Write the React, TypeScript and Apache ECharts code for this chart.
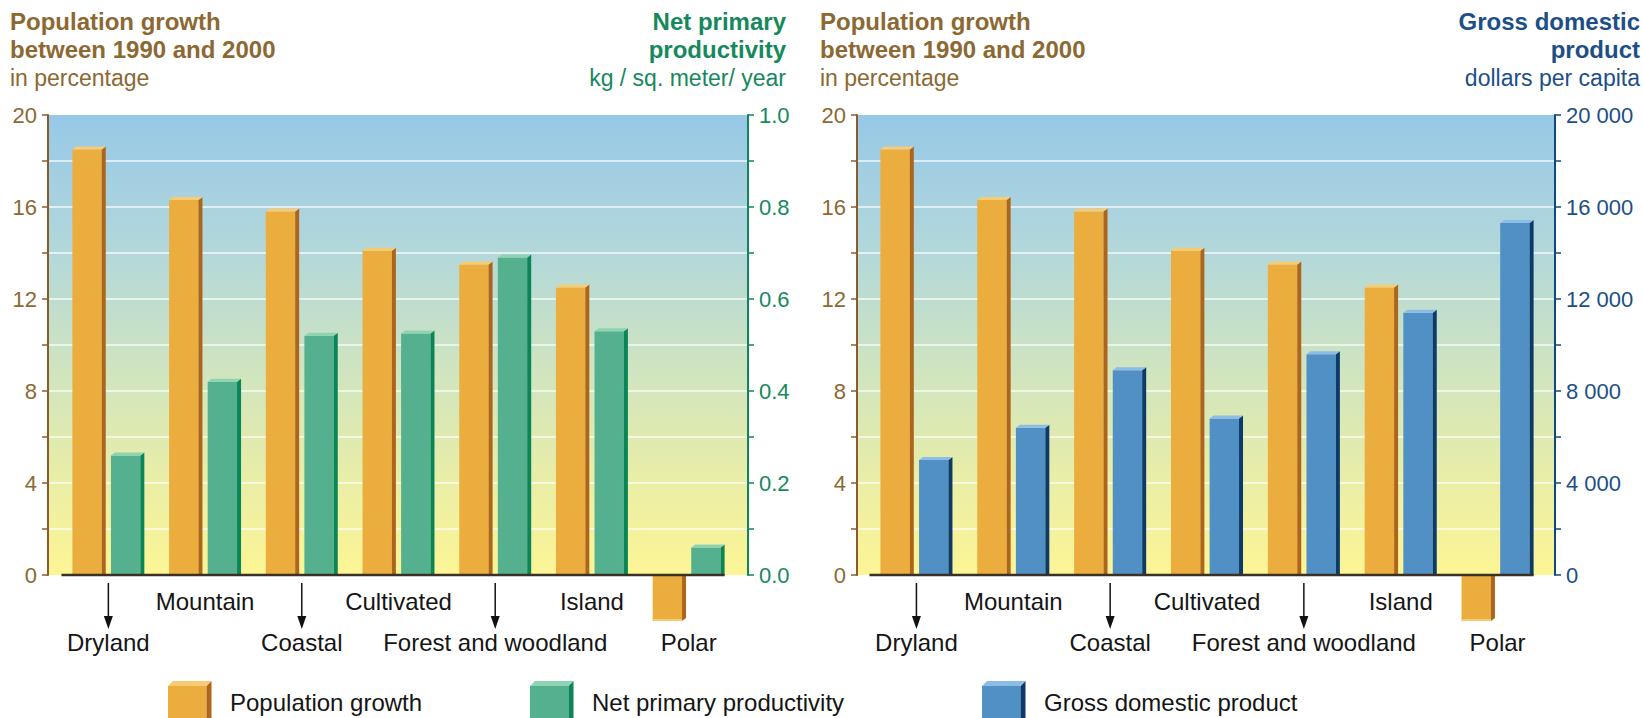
import React, { useEffect, useRef } from 'react';
import * as echarts from 'echarts';

// ---------- data ----------
const categories = ['Dryland', 'Mountain', 'Coastal', 'Cultivated', 'Forest and woodland', 'Island', 'Polar'];
const upperRowCategories = ['Mountain', 'Cultivated', 'Island'];
const arrowCategories = ['Dryland', 'Coastal', 'Forest and woodland'];
const populationGrowth = [18.5, 16.3, 15.8, 14.1, 13.5, 12.5, -2.0];
const netPrimaryProductivity = [0.26, 0.42, 0.52, 0.525, 0.69, 0.53, 0.06];
const gdpPerCapita = [5000, 6400, 8900, 6800, 9600, 11400, 15300];
const popAxisRange = [0, 20, 4];
const nppAxisRange = [0, 1, 0.2];
const gdpAxisRange = [0, 20000, 4000];

// ---------- style ----------
const FONT = '"Liberation Sans", Arial, Helvetica, sans-serif';
const BROWN_AXIS = '#8A5C2C';
const BROWN_TEXT = '#8C6833';
const GREEN_AXIS = '#11865A';
const GREEN_TEXT = '#16895C';
const BLUE_AXIS = '#0E4A7E';
const BLUE_TEXT = '#1D4F86';
const ORANGE = { front: '#EBAE3E', side: '#AD651C', top: '#F6CB74' };
const GREEN = { front: '#54B08E', side: '#0A8558', top: '#8ED3B2' };
const BLUE = { front: '#5190C5', side: '#0C3A69', top: '#8DBDE4' };

const bgGradient = {
  type: 'linear', x: 0, y: 0, x2: 0, y2: 1,
  colorStops: [
    { offset: 0, color: '#97C8E7' },
    { offset: 0.3, color: '#B3D8DA' },
    { offset: 0.55, color: '#CFE4C0' },
    { offset: 0.8, color: '#EAEEA6' },
    { offset: 1, color: '#FDF595' },
  ],
};

const bar3D = (col: any, leftSide: boolean) => (params: any, api: any) => {
  const i = api.value(0);
  const v = api.value(1);
  const pTop = api.coord([i, v]);
  const pBase = api.coord([i, 0]);
  const band = api.size([1, 0])[0];
  const w = band * 0.345;
  const x0 = pBase[0] + (leftSide ? -band * 0.372 : band * 0.027);
  const d = 4;
  const s = 3;
  const x1 = x0 + w - d;
  const yT = pTop[1];
  const yB = pBase[1];
  if (v >= 0) {
    return {
      type: 'group',
      children: [
        { type: 'rect', shape: { x: x0, y: yT, width: x1 - x0, height: yB - yT }, style: { fill: col.front } },
        { type: 'polygon', shape: { points: [[x1, yT], [x1 + d, yT - s], [x1 + d, yB], [x1, yB]] }, style: { fill: col.side } },
        { type: 'polygon', shape: { points: [[x0, yT], [x0 + d, yT - s], [x1 + d, yT - s], [x1, yT]] }, style: { fill: col.top } },
      ],
    };
  }
  return {
    type: 'group',
    children: [
      { type: 'rect', shape: { x: x0, y: yB, width: x1 - x0, height: yT - yB }, style: { fill: col.front } },
      { type: 'polygon', shape: { points: [[x1, yB], [x1 + d, yB], [x1 + d, yT - s], [x1, yT]] }, style: { fill: col.side } },
      { type: 'rect', shape: { x: x0, y: yT - 2, width: x1 - x0, height: 2 }, style: { fill: col.top } },
    ],
  };
};

const arrowItem = (params: any, api: any) => {
  const p = api.coord([api.value(0), 0]);
  return {
    type: 'group',
    children: [
      { type: 'line', shape: { x1: p[0], y1: p[1] + 8, x2: p[0], y2: p[1] + 45 }, style: { stroke: '#111', lineWidth: 1.5 } },
      { type: 'polygon', shape: { points: [[p[0] - 4.5, p[1] + 41], [p[0] + 4.5, p[1] + 41], [p[0], p[1] + 54]] }, style: { fill: '#111' } },
    ],
  };
};

// dark base line running from just before the first bar to the right edge of the last bar
const baseLineItem = (params: any, api: any) => {
  const band = api.size([1, 0])[0];
  const a = api.coord([0, 0]);
  const b = api.coord([categories.length - 1, 0]);
  return {
    type: 'line',
    shape: { x1: a[0] - band * 0.485, y1: a[1], x2: b[0] + band * 0.372, y2: b[1] },
    style: { stroke: '#3B3026', lineWidth: 2.5 },
  };
};

const catLabel = {
  interval: 0,
  hideOverlap: false,
  margin: 12,
  formatter: (value: string) =>
    upperRowCategories.includes(value) ? `{up|${value}}` : `{gap| }\n{low|${value}}`,
  rich: {
    up: { fontSize: 24, lineHeight: 28, color: '#151515', fontFamily: FONT },
    gap: { fontSize: 8, lineHeight: 41 },
    low: { fontSize: 24, lineHeight: 28, color: '#151515', fontFamily: FONT },
  },
};

const visibleCatAxis = (gridIndex: number) => ({
  gridIndex,
  type: 'category',
  data: categories,
  axisLine: { show: false },
  axisTick: { show: false },
  axisLabel: catLabel,
  splitLine: { show: false },
});

const whiteLine = { color: '#FFFFFF', width: 1.6, opacity: 0.85 };

const valueAxis = (
  gridIndex: number, position: string, range: number[], color: string, textColor: string,
  formatter: (v: number) => string, grid: boolean
) => ({
  gridIndex,
  type: 'value',
  position,
  min: range[0],
  max: range[1],
  interval: range[2],
  axisLine: { show: true, lineStyle: { color, width: 2 } },
  axisTick: { show: true, length: 6, lineStyle: { color, width: 1.5 } },
  minorTick: { show: true, splitNumber: 2, length: 6, lineStyle: { color, width: 1.5 } },
  axisLabel: { color: textColor, fontSize: 22, fontFamily: FONT, margin: 11, formatter },
  splitLine: { show: grid, showMinLine: false, showMaxLine: false, lineStyle: whiteLine },
  minorSplitLine: { show: grid, lineStyle: whiteLine },
});

const hiddenAxis = (gridIndex: number, range: number[]) => ({
  gridIndex, type: 'value', show: false, min: range[0], max: range[1], interval: range[2],
  splitLine: { show: false },
});

const thousands = (v: number) => String(v).replace(/\B(?=(\d{3})+(?!\d))/g, ' ');

const titleText = (x: number, y: number, text: string, color: string, bold: boolean, align: string, size: number) => ({
  type: 'text', x, y,
  style: { text, fill: color, fontSize: size, fontWeight: bold ? 'bold' : 'normal', fontFamily: FONT, align, verticalAlign: 'middle' },
});

const legendItems = [
  { label: 'Population growth', x: 168, col: ORANGE },
  { label: 'Net primary productivity', x: 530, col: GREEN },
  { label: 'Gross domestic product', x: 982, col: BLUE },
];

const legendGraphic = legendItems.map((it) => {
  const x = it.x;
  const w = 38.5;
  const t = 681;
  return {
    type: 'group',
    children: [
      { type: 'rect', shape: { x, y: t + 5, width: w, height: 45 }, style: { fill: it.col.front } },
      { type: 'polygon', shape: { points: [[x + w, t + 5], [x + w + 5, t], [x + w + 5, t + 50], [x + w, t + 50]] }, style: { fill: it.col.side } },
      { type: 'polygon', shape: { points: [[x, t + 5], [x + 5, t], [x + w + 5, t], [x + w, t + 5]] }, style: { fill: it.col.top } },
      { type: 'text', x: x + 62, y: 702, style: { text: it.label, fill: '#151515', fontSize: 24, fontFamily: FONT, align: 'left', verticalAlign: 'middle' } },
    ],
  };
});

export default function App() {
  const ref = useRef<HTMLDivElement>(null);
  useEffect(() => {
    if (!ref.current) return;
    const chart = echarts.init(ref.current, null, { renderer: 'svg' });
    const option: any = {
      animation: false,
      backgroundColor: '#FFFFFF',
      grid: [
        { left: 48, top: 115, width: 700, height: 460, show: true, backgroundColor: bgGradient, borderWidth: 0, outerBoundsMode: 'none' },
        { left: 60, top: 115, width: 677, height: 460, outerBoundsMode: 'none' },
        { left: 857, top: 115, width: 698, height: 460, show: true, backgroundColor: bgGradient, borderWidth: 0, outerBoundsMode: 'none' },
        { left: 868, top: 115, width: 678, height: 460, outerBoundsMode: 'none' },
      ],
      xAxis: [
        { gridIndex: 0, type: 'category', data: categories, show: false },
        visibleCatAxis(1),
        { gridIndex: 2, type: 'category', data: categories, show: false },
        visibleCatAxis(3),
      ],
      yAxis: [
        valueAxis(0, 'left', popAxisRange, BROWN_AXIS, BROWN_TEXT, (v) => String(v), true),
        valueAxis(0, 'right', nppAxisRange, GREEN_AXIS, GREEN_TEXT, (v) => v.toFixed(1), false),
        hiddenAxis(1, popAxisRange),
        hiddenAxis(1, nppAxisRange),
        valueAxis(2, 'left', popAxisRange, BROWN_AXIS, BROWN_TEXT, (v) => String(v), true),
        valueAxis(2, 'right', gdpAxisRange, BLUE_AXIS, BLUE_TEXT, thousands, false),
        hiddenAxis(3, popAxisRange),
        hiddenAxis(3, gdpAxisRange),
      ],
      series: [
        { type: 'custom', name: 'Population growth', xAxisIndex: 1, yAxisIndex: 2, silent: true, renderItem: bar3D(ORANGE, true), data: populationGrowth.map((v, i) => [i, v]) },
        { type: 'custom', name: 'Net primary productivity', xAxisIndex: 1, yAxisIndex: 3, silent: true, renderItem: bar3D(GREEN, false), data: netPrimaryProductivity.map((v, i) => [i, v]) },
        { type: 'custom', name: 'baseline-left', xAxisIndex: 1, yAxisIndex: 2, silent: true, renderItem: baseLineItem, data: [[0, 0]] },
        { type: 'custom', name: 'arrows-left', xAxisIndex: 1, yAxisIndex: 2, silent: true, renderItem: arrowItem, data: arrowCategories.map((c) => [categories.indexOf(c), 0]) },
        { type: 'custom', name: 'Population growth', xAxisIndex: 3, yAxisIndex: 6, silent: true, renderItem: bar3D(ORANGE, true), data: populationGrowth.map((v, i) => [i, v]) },
        { type: 'custom', name: 'Gross domestic product', xAxisIndex: 3, yAxisIndex: 7, silent: true, renderItem: bar3D(BLUE, false), data: gdpPerCapita.map((v, i) => [i, v]) },
        { type: 'custom', name: 'baseline-right', xAxisIndex: 3, yAxisIndex: 6, silent: true, renderItem: baseLineItem, data: [[0, 0]] },
        { type: 'custom', name: 'arrows-right', xAxisIndex: 3, yAxisIndex: 6, silent: true, renderItem: arrowItem, data: arrowCategories.map((c) => [categories.indexOf(c), 0]) },
      ],
      graphic: {
        elements: [
          titleText(10, 21, 'Population growth', BROWN_TEXT, true, 'left', 24),
          titleText(10, 49, 'between 1990 and 2000', BROWN_TEXT, true, 'left', 24),
          titleText(10, 78, 'in percentage', BROWN_TEXT, false, 'left', 23),
          titleText(786, 21, 'Net primary', GREEN_TEXT, true, 'right', 24),
          titleText(786, 49, 'productivity', GREEN_TEXT, true, 'right', 24),
          titleText(786, 78, 'kg / sq. meter/ year', GREEN_TEXT, false, 'right', 23),
          titleText(820, 21, 'Population growth', BROWN_TEXT, true, 'left', 24),
          titleText(820, 49, 'between 1990 and 2000', BROWN_TEXT, true, 'left', 24),
          titleText(820, 78, 'in percentage', BROWN_TEXT, false, 'left', 23),
          titleText(1640, 21, 'Gross domestic', BLUE_TEXT, true, 'right', 24),
          titleText(1640, 49, 'product', BLUE_TEXT, true, 'right', 24),
          titleText(1640, 78, 'dollars per capita', BLUE_TEXT, false, 'right', 23),
          ...legendGraphic,
        ],
      },
    };
    chart.setOption(option);
    return () => chart.dispose();
  }, []);
  return <div ref={ref} style={{ position: 'fixed', left: 0, top: 0, width: 1643, height: 718 }} />;
}
